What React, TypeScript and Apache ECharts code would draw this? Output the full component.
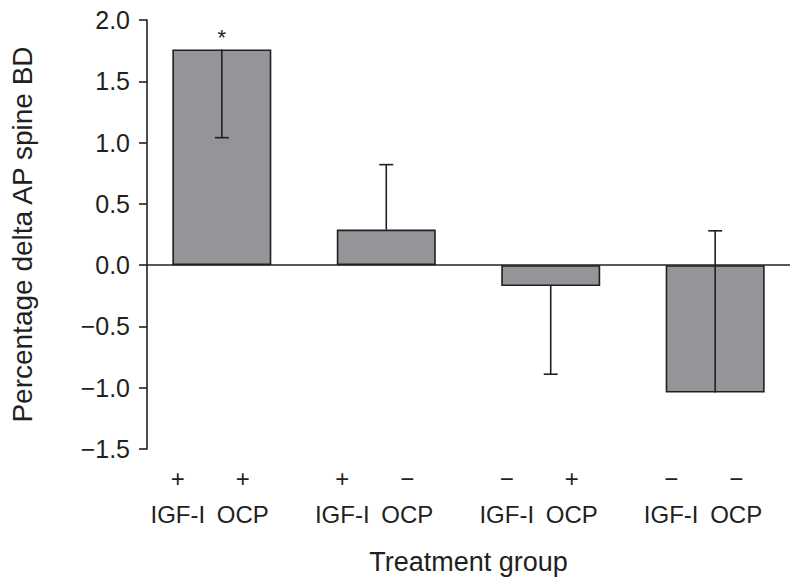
import React, { useEffect, useRef } from "react";
import * as echarts from "echarts";

const groupPositions = [1, 2, 3, 4];
const barValues = [1.76, 0.29, -0.17, -1.04];
const errorEnds = [1.04, 0.82, -0.89, 0.28];
const significance = ["*", "", "", ""];
const igfSigns = ["+", "+", "\u2212", "\u2212"];
const ocpSigns = ["+", "\u2212", "+", "\u2212"];
const igfLabel = "IGF-I";
const ocpLabel = "OCP";
const yTicks = { min: -1.5, max: 2, interval: 0.5 };
const xTitle = "Treatment group";
const yTitle = "Percentage delta AP spine BD";

const INK = "#231f20";
const FILL = "#939598";
const FONT = "Liberation Sans, Arial, Helvetica, sans-serif";

export default function App() {
  const ref = useRef<HTMLDivElement>(null);
  useEffect(() => {
    document.body.style.margin = "0";
    const chart = echarts.init(ref.current!, null, { renderer: "svg" });
    const option: any = {
      animation: false,
      backgroundColor: "#ffffff",
      textStyle: { fontFamily: FONT, color: INK },
      grid: { left: 145, right: 10, top: 20, bottom: 139, containLabel: false },
      xAxis: {
        type: "value",
        min: 0.545,
        max: 4.455,
        axisLine: { show: false },
        axisTick: { show: false },
        axisLabel: { show: false },
        splitLine: { show: false },
        name: xTitle,
        nameLocation: "middle",
        nameGap: 99,
        nameTextStyle: { fontSize: 27, color: INK, fontFamily: FONT },
      },
      yAxis: {
        type: "value",
        min: yTicks.min,
        max: yTicks.max,
        interval: yTicks.interval,
        axisLine: { show: true, onZero: false, lineStyle: { color: INK, width: 1.6 } },
        axisTick: { show: true, inside: false, length: 8, lineStyle: { color: INK, width: 1.6 } },
        axisLabel: {
          fontSize: 25,
          color: INK,
          margin: 17,
          fontFamily: FONT,
          formatter: (v: number) => v.toFixed(1).replace("-", "\u2212"),
        },
        splitLine: { show: false },
        name: yTitle,
        nameLocation: "middle",
        nameGap: 111,
        nameTextStyle: { fontSize: 28, color: INK, fontFamily: FONT },
      },
      series: [
        {
          type: "bar",
          data: barValues.map((v, i) => [groupPositions[i], v]),
          barWidth: 99,
          itemStyle: { color: FILL, borderColor: INK, borderWidth: 1.6 },
          label: {
            show: true,
            position: "top",
            distance: 1,
            fontSize: 22,
            color: INK,
            fontFamily: FONT,
            formatter: (p: any) => significance[p.dataIndex],
          },
          markLine: {
            silent: true,
            symbol: "none",
            label: { show: false },
            lineStyle: { color: INK, width: 1.6, type: "solid" },
            data: [{ yAxis: 0 }],
          },
          z: 2,
        },
        {
          type: "custom",
          z: 5,
          data: barValues.map((v, i) => [groupPositions[i], v, errorEnds[i]]),
          renderItem: (params: any, api: any) => {
            const x = api.value(0);
            const p0 = api.coord([x, api.value(1)]);
            const p1 = api.coord([x, api.value(2)]);
            const style = { stroke: INK, lineWidth: 1.6 };
            return {
              type: "group",
              children: [
                { type: "line", shape: { x1: p0[0], y1: p0[1], x2: p1[0], y2: p1[1] }, style },
                { type: "line", shape: { x1: p1[0] - 7, y1: p1[1], x2: p1[0] + 7, y2: p1[1] }, style },
              ],
            };
          },
        },
        {
          type: "custom",
          z: 5,
          clip: false,
          data: groupPositions.map((x) => [x, yTicks.min]),
          renderItem: (params: any, api: any) => {
            const i = params.dataIndex;
            const p = api.coord([api.value(0), api.value(1)]);
            const ts = (text: string, dx: number, dy: number) => ({
              type: "text",
              x: p[0] + dx,
              y: p[1] + dy,
              style: {
                text,
                fontSize: 24,
                fontFamily: FONT,
                fill: INK,
                align: "center",
                verticalAlign: "middle",
              },
            });
            return {
              type: "group",
              children: [
                ts(igfSigns[i], -44, 29),
                ts(ocpSigns[i], 21, 29),
                ts(igfLabel, -44, 65),
                ts(ocpLabel, 21, 65),
              ],
            };
          },
        },
      ],
    };
    chart.setOption(option);
    return () => chart.dispose();
  }, []);
  return (
    <div
      ref={ref}
      style={{ position: "fixed", left: 0, top: 0, width: 800, height: 588 }}
    />
  );
}
